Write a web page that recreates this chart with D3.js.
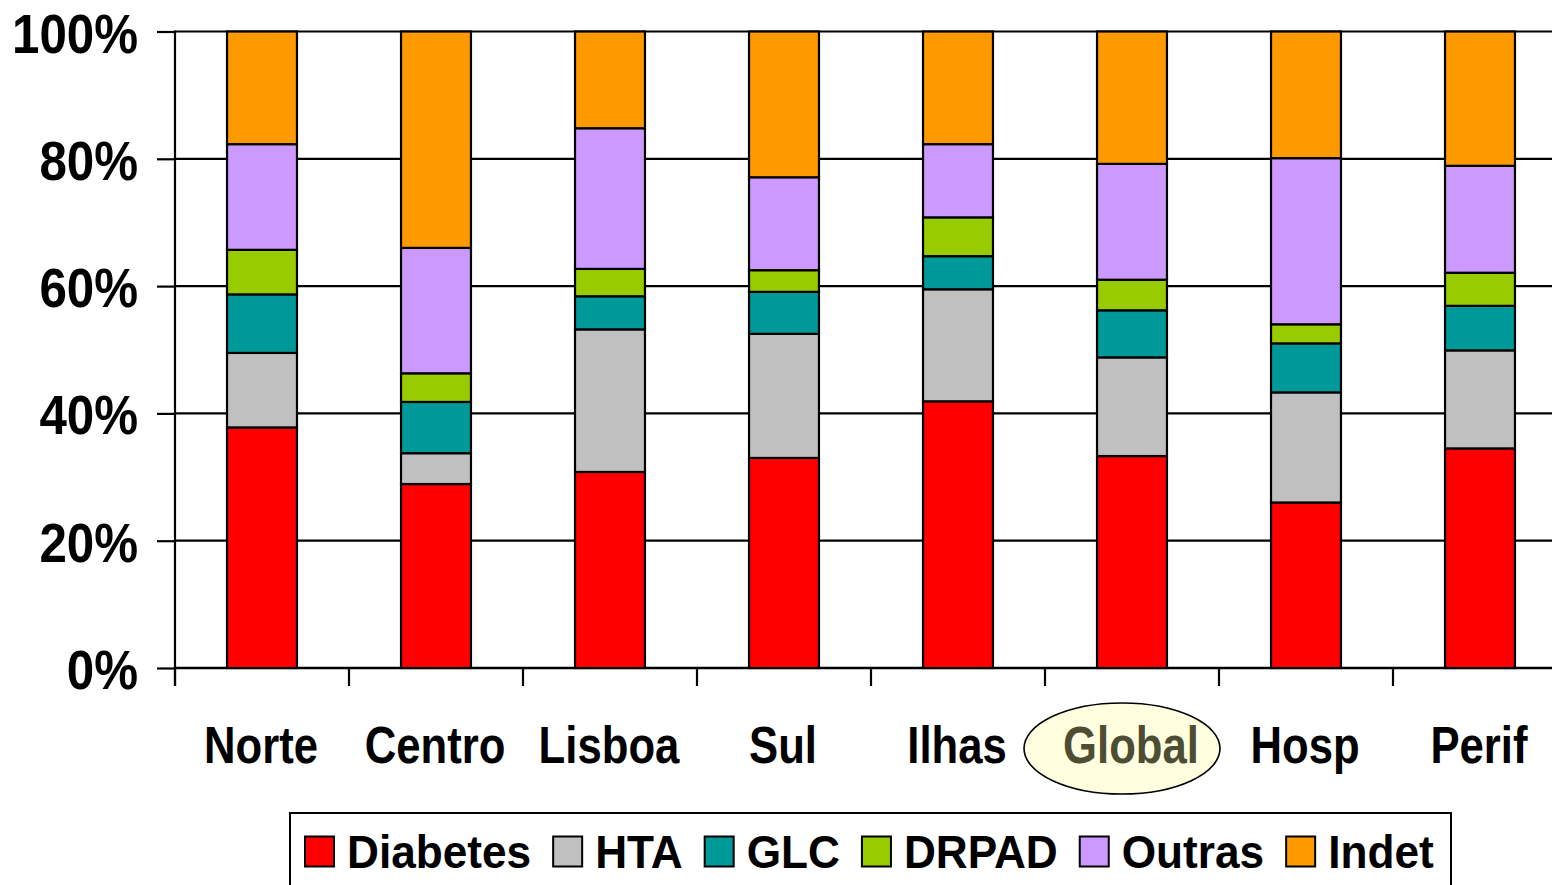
<!DOCTYPE html>
<html>
<head>
<meta charset="utf-8">
<script src="https://cdn.jsdelivr.net/npm/d3@7"></script>
<style>
  html, body { margin: 0; padding: 0; background: #fff; }
  svg { display: block; }
  text { font-family: "Liberation Sans", Arial, sans-serif; font-weight: bold; }
</style>
</head>
<body>
<svg id="chart" width="1552" height="885"></svg>
<script>
// ---- data ----
const categories = ["Norte", "Centro", "Lisboa", "Sul", "Ilhas", "Global", "Hosp", "Perif"];
const seriesNames = ["Diabetes", "HTA", "GLC", "DRPAD", "Outras", "Indet"];
const seriesColors = ["#FF0000", "#C0C0C0", "#009999", "#99CC00", "#CC99FF", "#FF9900"];
const diabetes = [37.8, 28.9, 30.8, 33.0, 41.9, 33.3, 26.0, 34.5];
const hta      = [11.7, 4.85, 22.4, 19.5, 17.6, 15.5, 17.3, 15.4];
const glc      = [9.2, 8.05, 5.2, 6.6, 5.2, 7.4, 7.7, 7.0];
const drpad    = [7.0, 4.5, 4.3, 3.4, 6.1, 4.8, 3.0, 5.2];
const outras   = [16.6, 19.7, 22.1, 14.6, 11.5, 18.2, 26.1, 16.8];
const indet    = [17.7, 34.0, 15.2, 22.9, 17.7, 20.8, 19.9, 21.1];
const yTickValues = [0, 0.2, 0.4, 0.6, 0.8, 1.0];
const highlighted = "Global";

(function () {
// ---- build table ----
const seriesValues = [diabetes, hta, glc, drpad, outras, indet];
const rows = categories.map((c, i) => {
  const r = { category: c };
  seriesNames.forEach((s, j) => r[s] = seriesValues[j][i]);
  return r;
});
const stacked = d3.stack().keys(seriesNames).offset(d3.stackOffsetExpand)(rows);

// ---- layout ----
const svg = d3.select("#chart");
const plotLeft = 175, plotTop = 31.5, plotBottom = 668, step = 174;
const x = d3.scaleBand().domain(categories)
  .range([plotLeft, plotLeft + step * categories.length])
  .paddingInner(0.598).paddingOuter(0.299);
const y = d3.scaleLinear().domain([0, 1]).range([plotBottom, plotTop]);
const color = d3.scaleOrdinal().domain(seriesNames).range(seriesColors);

// gridlines
svg.append("g").selectAll("line").data(yTickValues).join("line")
  .attr("x1", plotLeft).attr("x2", 1560)
  .attr("y1", d => y(d)).attr("y2", d => y(d))
  .attr("stroke", "#000").attr("stroke-width", 2.2);

// y axis
const yAxis = svg.append("g").attr("transform", `translate(${plotLeft},0)`)
  .call(d3.axisLeft(y).tickValues(yTickValues).tickSize(18).tickFormat(""));
yAxis.select(".domain").remove();
yAxis.selectAll(".tick line").attr("stroke", "#000").attr("stroke-width", 2.2);
svg.append("line").attr("x1", plotLeft).attr("x2", plotLeft).attr("y1", plotTop - 1).attr("y2", 686)
  .attr("stroke", "#000").attr("stroke-width", 2.2);
const fmt = d3.format(".0%");
svg.append("g").selectAll("g").data(yTickValues).join("g")
  .attr("transform", d => `translate(138,${y(d) + 21}) scale(0.88,1)`)
  .append("text").attr("text-anchor", "end").attr("font-size", 56).attr("fill", "#000")
  .text(d => fmt(d));

// x axis ticks (band boundaries)
const boundaries = categories.map(c => x(c) - (x.step() - x.bandwidth()) / 2);
svg.append("g").selectAll("line").data(boundaries).join("line")
  .attr("x1", d => d).attr("x2", d => d).attr("y1", plotBottom).attr("y2", 686)
  .attr("stroke", "#000").attr("stroke-width", 2.2);
svg.append("line").attr("x1", plotLeft).attr("x2", 1560).attr("y1", plotBottom).attr("y2", plotBottom)
  .attr("stroke", "#000").attr("stroke-width", 2.5);

// bars
svg.append("g").selectAll("g").data(stacked).join("g")
  .attr("fill", d => color(d.key))
  .selectAll("rect").data(d => d).join("rect")
  .attr("x", d => x(d.data.category))
  .attr("width", x.bandwidth())
  .attr("y", d => y(d[1]))
  .attr("height", d => y(d[0]) - y(d[1]))
  .attr("stroke", "#000").attr("stroke-width", 2.2);

// highlight ellipse
const cx = x(highlighted) + x.bandwidth() / 2 - 10;
svg.append("ellipse").attr("cx", cx).attr("cy", 748.5).attr("rx", 98).attr("ry", 45.5)
  .attr("fill", "#FFFFE0").attr("stroke", "#000").attr("stroke-width", 1.6);

// x labels
svg.append("g").selectAll("g").data(categories).join("g")
  .attr("transform", d => `translate(${x(d) + x.bandwidth() / 2 - 1},763) scale(0.84,1)`)
  .append("text").attr("text-anchor", "middle").attr("font-size", 52)
  .attr("fill", d => d === highlighted ? "#4D4D33" : "#000")
  .text(d => d);

// legend
const legend = svg.append("g");
legend.append("rect").attr("x", 290).attr("y", 813).attr("width", 1161).attr("height", 90)
  .attr("fill", "#fff").attr("stroke", "#000").attr("stroke-width", 2);
let lx = 305;
const sx = 0.94;
seriesNames.forEach((s) => {
  legend.append("rect").attr("x", lx).attr("y", 836.5).attr("width", 29).attr("height", 30)
    .attr("fill", color(s)).attr("stroke", "#000").attr("stroke-width", 2);
  const g = legend.append("g").attr("transform", `translate(${lx + 42},868) scale(${sx},1)`);
  const t = g.append("text").attr("font-size", 47).attr("fill", "#000").text(s);
  const w = t.node().getComputedTextLength() * sx;
  lx = lx + 42 + w + 22;
});
})();
</script>
</body>
</html>
